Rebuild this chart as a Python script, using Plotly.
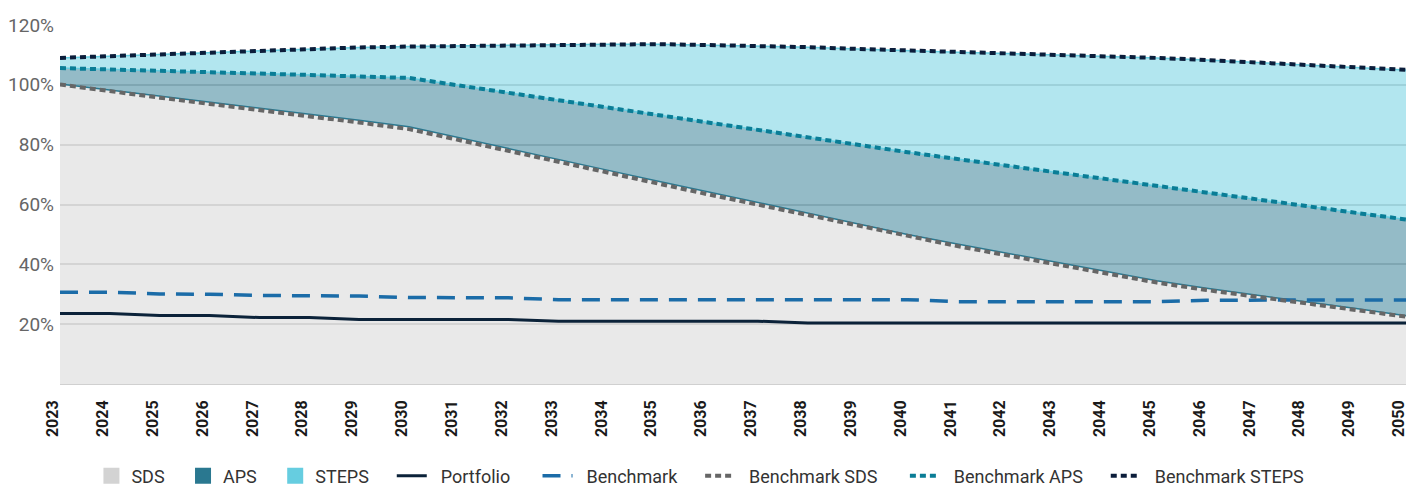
import plotly.graph_objects as go

years = list(range(2023, 2051))

sds = [100.3, 98.3, 96.3, 94.3, 92.3, 90.3, 88.2, 86.0, 82.3, 78.6, 75.0, 71.4, 67.8, 64.2,
       60.7, 57.2, 53.6, 50.0, 46.8, 43.7, 40.6, 37.5, 34.5, 32.0, 29.8, 27.6, 25.2, 22.8]
aps = [105.6, 105.2, 104.8, 104.3, 103.8, 103.3, 102.8, 102.3, 99.8, 97.3, 94.8, 92.3, 89.8, 87.3,
       84.8, 82.3, 79.8, 77.5, 75.2, 73.0, 70.7, 68.5, 66.2, 63.9, 61.7, 59.5, 57.2, 55.0]
steps = [109.0, 109.6, 110.2, 110.8, 111.4, 112.0, 112.5, 112.8, 113.0, 113.3, 113.5, 113.6, 113.6, 113.3,
         113.0, 112.6, 112.0, 111.4, 110.9, 110.5, 110.0, 109.6, 109.0, 108.3, 107.5, 106.5, 105.7, 105.0]
portfolio = [23.6, 23.6, 22.9, 22.9, 22.2, 22.2, 21.6, 21.6, 21.6, 21.6, 21.0, 21.0, 21.0, 21.0,
             21.0, 20.4, 20.4, 20.4, 20.4, 20.4, 20.4, 20.4, 20.4, 20.4, 20.4, 20.4, 20.4, 20.4]
benchmark = [30.7, 30.7, 30.1, 30.0, 29.6, 29.5, 29.4, 28.9, 28.8, 28.8, 28.2, 28.2, 28.2, 28.2,
             28.2, 28.2, 28.2, 28.2, 27.5, 27.5, 27.5, 27.5, 27.5, 28.0, 28.1, 28.1, 28.1, 28.1]
bench_sds = [100.1, 97.8, 95.7, 93.6, 91.6, 89.6, 87.4, 85.2, 81.5, 77.8, 74.2, 70.6, 67.0, 63.4,
             59.9, 56.4, 52.8, 49.3, 46.1, 43.0, 39.9, 36.9, 33.9, 31.4, 29.2, 27.0, 24.7, 22.5]
bench_aps = aps
bench_steps = steps

ytick_vals = [20, 40, 60, 80, 100, 120]
ytick_text = ["20%", "40%", "60%", "80%", "100%", "120%"]

NB = "\u00a0"

fig = go.Figure()

# Areas
fig.add_trace(go.Scatter(x=years, y=sds, mode="lines", fill="tozeroy",
                         fillcolor="rgba(211,211,211,0.5)",
                         line=dict(color="#2a7890", width=1.5), showlegend=False, hoverinfo="skip"))
fig.add_trace(go.Scatter(x=years, y=aps, mode="lines", fill="tonexty",
                         fillcolor="rgba(42,120,144,0.5)",
                         line=dict(color="#66cde0", width=1.5), showlegend=False, hoverinfo="skip"))
fig.add_trace(go.Scatter(x=years, y=steps, mode="lines", fill="tonexty",
                         fillcolor="rgba(102,205,224,0.5)",
                         line=dict(color="#66cde0", width=1.5), showlegend=False, hoverinfo="skip"))

# Legend-only squares for areas
for name, col, npad in [("SDS", "#d3d3d3", 3), ("APS", "#2a7890", 3), ("STEPS", "#66cde0", 4)]:
    fig.add_trace(go.Scatter(x=[None], y=[None], mode="markers", name=name + NB * npad,
                             marker=dict(symbol="square", size=16, color=col)))

fig.add_trace(go.Scatter(x=years, y=portfolio, mode="lines", name=NB * 2 + "Portfolio" + NB * 5,
                         line=dict(color="#0b2239", width=3)))
fig.add_trace(go.Scatter(x=years, y=benchmark, mode="lines", name=NB * 2 + "Benchmark" + NB * 4,
                         line=dict(color="#1b6ca8", width=3.5, dash="18px,11px")))
fig.add_trace(go.Scatter(x=years, y=bench_sds, mode="lines", name=NB * 2 + "Benchmark SDS" + NB * 5,
                         line=dict(color="#666666", width=4, dash="6px,4px")))
fig.add_trace(go.Scatter(x=years, y=bench_aps, mode="lines", name=NB * 2 + "Benchmark APS" + NB * 4,
                         line=dict(color="#0a7d96", width=4, dash="6px,4px")))
fig.add_trace(go.Scatter(x=years, y=bench_steps, mode="lines", name=NB * 2 + "Benchmark STEPS",
                         line=dict(color="#0b1d3a", width=4, dash="6px,4px")))

fig.update_layout(
    width=1407, height=486,
    margin=dict(l=60, r=1, t=25, b=102, autoexpand=False),
    paper_bgcolor="white", plot_bgcolor="white",
    font=dict(family="Roboto", size=18, color="#333333"),
    showlegend=True,
    legend=dict(orientation="h", x=0.4758, xanchor="center",
                y=-0.3076, yanchor="bottom",
                font=dict(family="Roboto", size=18, color="#333333"), traceorder="normal"),
)
fig.update_xaxes(range=[2023, 2050], tickmode="array", tickvals=years,
                 ticktext=[str(y) for y in years], tickangle=-90,
                 tickfont=dict(family="Roboto", size=16, color="#1a1a1a", weight="bold"),
                 ticklabelshift=-7, ticklabelstandoff=9, ticklabeloverflow="allow",
                 automargin=False,
                 showgrid=False, zeroline=False, showline=True, linecolor="#d0d0d0", linewidth=1,
                 ticks="")
fig.update_yaxes(range=[0, 120], tickmode="array", tickvals=ytick_vals, ticktext=ytick_text,
                 tickfont=dict(family="Roboto", size=19, color="#666666"),
                 ticklabelstandoff=5, automargin=False,
                 showgrid=True, gridcolor="#d4d4d4", gridwidth=1.5, zeroline=False, ticks="")

fig.write_html("out.html", config={"displayModeBar": False},
               post_script="document.body.style.margin='0';document.body.style.overflow='hidden';")
